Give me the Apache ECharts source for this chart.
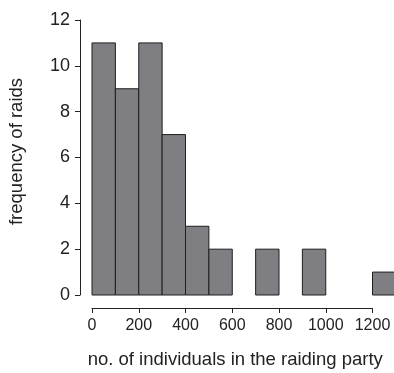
<!DOCTYPE html>
<html><head><meta charset="utf-8">
<script src="https://cdn.jsdelivr.net/npm/echarts@6/dist/echarts.min.js"></script>
<style>html,body{margin:0;padding:0;background:#fff}#c{width:394px;height:373px}</style>
</head><body><div id="c"></div>
<script>
const binStarts = [0,100,200,300,400,500,600,700,800,900,1000,1100,1200];
const binWidth = 100;
const counts = [11,9,11,7,3,2,0,2,0,2,0,0,1];
const xTicks = [0,200,400,600,800,1000,1200];
const yTicks = [0,2,4,6,8,10,12];

const data = binStarts.map((s,i)=>[s, s+binWidth, counts[i]]);
const chart = echarts.init(document.getElementById('c'), null, {renderer:'canvas'});
const font = 'Liberation Sans, Arial, sans-serif';
chart.setOption({
  animation:false,
  grid:{left:92, right:21.5, top:20, bottom:78, containLabel:false, outerBoundsMode:'none'},
  xAxis:{type:'value', min:xTicks[0], max:xTicks[xTicks.length-1], interval:200, offset:13,
    axisLine:{onZero:false, lineStyle:{color:'#222',width:1}},
    axisTick:{length:5, lineStyle:{color:'#222'}},
    axisLabel:{color:'#222', fontSize:16, fontFamily:font, margin:10, formatter:v=>String(v)},
    splitLine:{show:false},
    name:'no. of individuals in the raiding party', nameLocation:'middle', nameGap:42,
    nameTextStyle:{color:'#222', fontSize:18.5, fontFamily:font, padding:[0,0,0,6]}
  },
  yAxis:{type:'value', min:yTicks[0], max:yTicks[yTicks.length-1], interval:2, offset:12,
    axisLine:{show:true, onZero:false, lineStyle:{color:'#222',width:1}},
    axisTick:{show:true, length:5, lineStyle:{color:'#222'}},
    axisLabel:{color:'#222', fontSize:18, fontFamily:font, margin:10, formatter:v=>String(v)},
    splitLine:{show:false},
    name:'frequency of raids', nameLocation:'middle', nameGap:54,
    nameTextStyle:{color:'#222', fontSize:18.5, fontFamily:font, padding:[0,0,0,12]}
  },
  series:[{
    type:'custom', clip:false,
    renderItem:function(params, api){
      const x0 = api.value(0), x1 = api.value(1), c = api.value(2);
      if(c<=0) return null;
      const p0 = api.coord([x0, c]);
      const p1 = api.coord([x1, 0]);
      return {type:'rect', shape:{x:p0[0], y:p0[1], width:p1[0]-p0[0], height:p1[1]-p0[1]},
        style:{fill:'#7f7f83', stroke:'#1e1e1e', lineWidth:1}};
    },
    encode:{x:[0,1], y:2},
    data:data
  }]
});
</script></body></html>
